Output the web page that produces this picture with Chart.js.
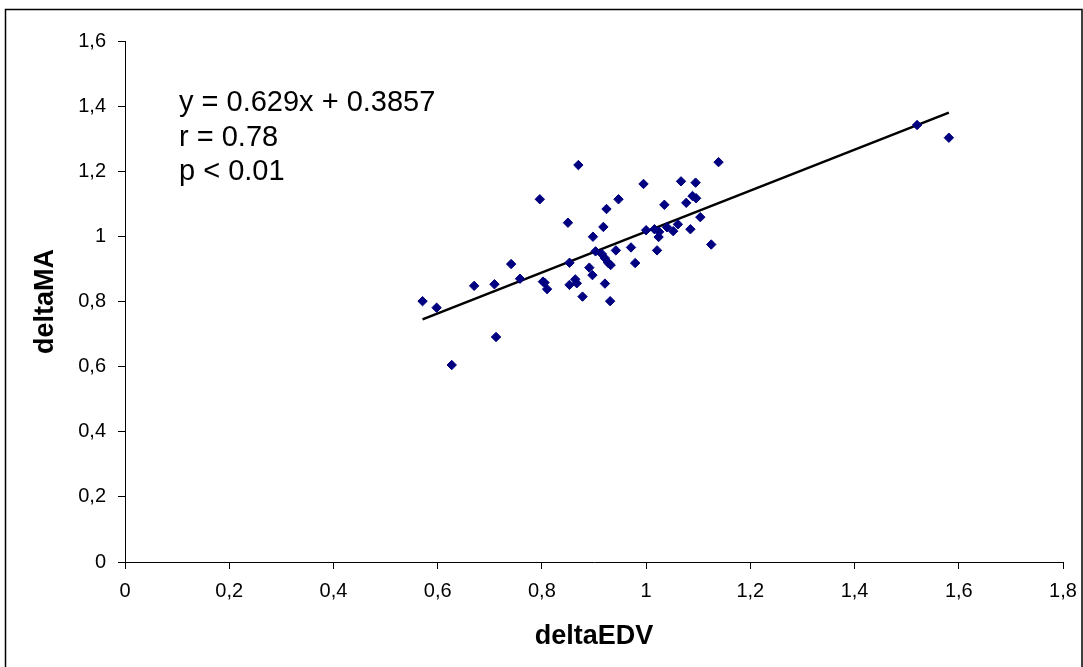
<!DOCTYPE html>
<html>
<head>
<meta charset="utf-8">
<script src="https://cdn.jsdelivr.net/npm/chart.js@4.4.1/dist/chart.umd.min.js"></script>
<style>
  html, body { margin: 0; padding: 0; background: #fff; }
  #wrap { width: 1083px; height: 667px; position: relative; }
</style>
</head>
<body>
<div id="wrap"><canvas id="chart" width="1083" height="667"></canvas></div>
<script>
// measured points (deltaEDV, deltaMA)
const deltaEDV = [
    0.571, 0.598, 0.627, 0.670, 0.709, 0.712, 0.741, 0.758, 0.796, 0.802,
    0.805, 0.810, 0.850, 0.853, 0.853, 0.864, 0.867, 0.870, 0.878, 0.891,
    0.897, 0.898, 0.903, 0.915, 0.918, 0.921, 0.921, 0.924, 0.927, 0.932,
    0.931, 0.942, 0.947, 0.971, 0.979, 0.995, 1.000, 1.016, 1.025, 1.024,
    1.021, 1.035, 1.040, 1.052, 1.061, 1.067, 1.077, 1.085, 1.089, 1.095,
    1.096, 1.104, 1.125, 1.139, 1.520, 1.581
];
const deltaMA = [
    0.801, 0.781, 0.605, 0.848, 0.853, 0.691, 0.915, 0.870, 1.114, 0.861,
    0.858, 0.838, 1.042, 0.919, 0.851, 0.868, 0.856, 1.219, 0.815, 0.904,
    0.881, 0.999, 0.954, 0.946, 1.029, 0.933, 0.855, 1.084, 0.919, 0.912,
    0.801, 0.957, 1.114, 0.966, 0.918, 1.161, 1.019, 1.022, 1.014, 0.998,
    0.957, 1.097, 1.028, 1.016, 1.037, 1.169, 1.103, 1.022, 1.124, 1.165,
    1.117, 1.059, 0.975, 1.228, 1.342, 1.303
];

// regression line end points as drawn
const trendX = [0.571, 1.581];
const trendY = [0.745, 1.380];

const statLines = ['y = 0.629x + 0.3857', 'r = 0.78', 'p < 0.01'];

const FONT = '"Liberation Sans", Arial, sans-serif';

const points = deltaEDV.map((x, i) => ({x: x, y: deltaMA[i]}));
const trend = trendX.map((x, i) => ({x: x, y: trendY[i]}));

const commaTick = v => String(Number(v.toFixed(1))).replace('.', ',');

const frame = {
    id: 'frame',
    beforeDraw(chart) {
        const ctx = chart.ctx;
        ctx.save();
        ctx.fillStyle = '#fff';
        ctx.fillRect(0, 0, chart.width, chart.height);
        ctx.strokeStyle = '#000';
        ctx.lineWidth = 1.5;
        ctx.strokeRect(5.5, 9.5, 1076.5, 700);
        ctx.restore();
    }
};

const statsText = {
    id: 'statsText',
    afterDraw(chart) {
        const ctx = chart.ctx;
        ctx.save();
        ctx.fillStyle = '#000';
        ctx.font = '29px ' + FONT;
        ctx.textBaseline = 'middle';
        ctx.textAlign = 'left';
        statLines.forEach((line, i) => {
            ctx.fillText(line, 179, 103 + i * 34.5);
        });
        ctx.restore();
    }
};

new Chart(document.getElementById('chart').getContext('2d'), {
    type: 'scatter',
    data: {
        datasets: [{
            data: points,
            pointStyle: 'rectRot',
            pointRadius: 4.7,
            pointBackgroundColor: '#000080',
            pointBorderColor: '#000080',
            pointBorderWidth: 1,
            showLine: false
        }, {
            type: 'line',
            data: trend,
            borderColor: '#000',
            borderWidth: 2.5,
            pointRadius: 0,
            fill: false
        }]
    },
    plugins: [frame, statsText],
    options: {
        responsive: false,
        animation: false,
        layout: {
            padding: {left: 0, top: 41, right: 20, bottom: 0}
        },
        plugins: {
            legend: {display: false},
            tooltip: {enabled: false}
        },
        scales: {
            x: {
                type: 'linear',
                min: 0,
                max: 1.8,
                afterFit: scale => {
                    scale.height = 105;
                    scale.paddingLeft = 0;
                    scale.paddingRight = 0;
                },
                ticks: {
                    stepSize: 0.2,
                    color: '#000',
                    padding: 10,
                    maxRotation: 0,
                    font: {family: FONT, size: 20},
                    callback: commaTick
                },
                grid: {
                    drawOnChartArea: false,
                    drawTicks: true,
                    tickLength: 7,
                    color: '#000'
                },
                border: {display: true, color: '#000', width: 1},
                title: {
                    display: true,
                    text: 'deltaEDV',
                    color: '#000',
                    font: {family: FONT, size: 27, weight: 'bold'},
                    padding: {top: 0, bottom: 14}
                }
            },
            y: {
                type: 'linear',
                min: 0,
                max: 1.6,
                afterFit: scale => {
                    scale.width = 125;
                    scale.paddingTop = 0;
                    scale.paddingBottom = 0;
                },
                ticks: {
                    stepSize: 0.2,
                    color: '#000',
                    padding: 12,
                    font: {family: FONT, size: 20},
                    callback: commaTick
                },
                grid: {
                    drawOnChartArea: false,
                    drawTicks: true,
                    tickLength: 7,
                    color: '#000'
                },
                border: {display: true, color: '#000', width: 1},
                title: {
                    display: true,
                    text: 'deltaMA',
                    color: '#000',
                    font: {family: FONT, size: 27, weight: 'bold'},
                    padding: {top: 29, bottom: 0}
                }
            }
        }
    }
});
</script>
</body>
</html>
